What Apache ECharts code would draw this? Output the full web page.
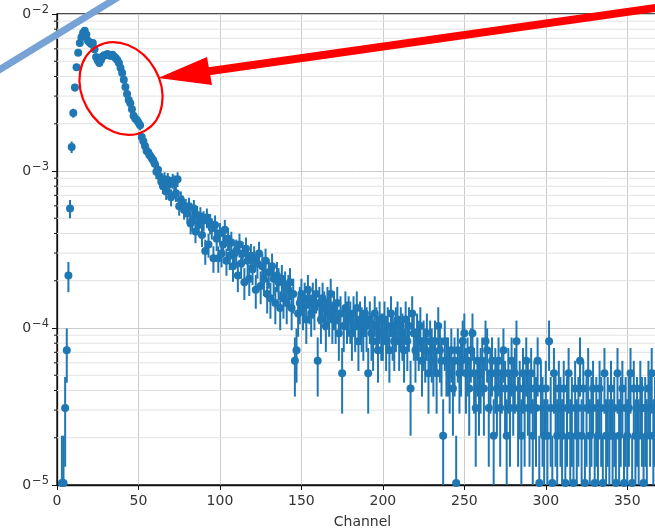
<!DOCTYPE html>
<html><head><meta charset="utf-8">
<script src="https://cdn.jsdelivr.net/npm/echarts@6/dist/echarts.min.js"></script>
<style>html,body{margin:0;padding:0;background:#fff}#c{width:655px;height:531px}</style>
</head><body><div id="c"></div>
<script>
// counts per channel (channel = index)
const counts = [
0,0,0,1,1,3,7,21,56,138,
227,330,445,550,635,690,735,760,720,655,
640,625,634,580,517,490,473,495,520,530,
532,540,532,525,535,520,510,495,473,440,
408,370,333,300,275,262,240,218,210,205,
198,190,160,150,140,130,128,122,118,114,
108,96,99,90,83,78,86,72,85,80,
66,84,82,70,86,58,64,60,55,57,
52,58,45,47,56,40,51,44,50,38,
47,30,49,33,45,42,27,44,36,27,
39,29,33,41,26,36,28,34,24,29,
30,21,33,25,29,19,31,26,20,28,
23,27,17,25,29,18,24,20,26,16,
22,15,24,20,14,21,19,13,20,15,
18,14,17,19,13,16,6,7,12,14,
16,13,15,11,17,14,12,15,13,16,
6,14,11,15,13,10,14,12,16,11,
13,11,14,9,12,5,10,13,11,12,
11,9,12,10,13,8,11,10,9,12,
10,5,11,9,8,12,10,7,11,9,
9,11,8,10,7,12,9,8,10,11,
8,10,9,7,11,8,10,4,12,9,
7,9,8,10,6,8,7,9,5,8,
7,6,8,5,10,7,6,2,8,6,
6,5,7,4,6,1,7,5,6,8,
9,5,6,4,7,9,5,3,6,4,
5,6,4,8,7,3,5,6,2,5,
4,6,3,5,7,4,2,5,3,6,
4,5,8,3,4,2,5,3,6,4,
3,5,2,4,3,6,1,4,3,2,
4,2,8,3,1,5,3,2,4,3,
2,4,1,3,5,2,3,1,4,2,
3,6,2,4,1,3,5,2,3,4,
1,3,2,4,3,1,5,2,3,2,
4,2,3,1,5,2,3,4,1,3,
2,3,5,1,4,2,3,2,4,3,
1,3,2,4,3,5,2,3
];
const countUnit = 1.03e-5;           // value of one count on the y axis
const xTickValues = [0,50,100,150,200,250,300,350];
const xTickLabels = ['0','50','100','150','200','250','300','350'];
const yTickValues = [1e-5,1e-4,1e-3,1e-2];
const yTickBase = ['0','0','0','0'];
const yTickExp = ['\u22125','\u22124','\u22123','\u22122'];
const xName = 'Channel';

// derived series (Poisson errors, sqrt of counts)
const points = [], bars = [];
counts.forEach((n,i)=>{
  if(n<=0) return;
  const v = n*countUnit, e = Math.sqrt(n)*countUnit;
  points.push([i, v]);
  bars.push([i, v, v-e, v+e]);
});
const minorVals = [];
for (let k=-5;k<=-3;k++) for (let m=2;m<=9;m++) minorVals.push([0, m*Math.pow(10,k)]);

const chart = echarts.init(document.getElementById('c'), null, {renderer:'canvas'});
const blue = '#1f77b4';
const FONT = 'DejaVu Sans';
chart.setOption({
  animation:false,
  backgroundColor:'#fff',
  grid:{left:57, top:14, bottom:46, right:-13, show:true, borderColor:'#111', borderWidth:1.3,
        containLabel:false, outerBoundsMode:'none'},
  xAxis:{type:'value', min:0, max:375, interval:50,
    name:xName, nameLocation:'middle', nameGap:30,
    nameTextStyle:{fontFamily:FONT, fontSize:14, color:'#333'},
    axisLine:{show:true, onZero:false, lineStyle:{color:'#111', width:1.3}},
    axisTick:{show:true, length:5, lineStyle:{color:'#111'}},
    axisLabel:{margin:9, fontFamily:FONT, fontSize:14, color:'#333', showMaxLabel:false,
      formatter:v=>{const i=xTickValues.indexOf(v); return i<0?'':xTickLabels[i];}},
    splitLine:{show:true, lineStyle:{color:'#cccccc', width:1}}
  },
  yAxis:{type:'log', logBase:10, min:1e-5, max:1e-2, splitNumber:3,
    axisLine:{show:true, lineStyle:{color:'#111', width:1.3}},
    axisTick:{show:true, length:5, lineStyle:{color:'#111'}},
    axisLabel:{margin:8, fontFamily:FONT, color:'#333',
      formatter:v=>{
        const i=yTickValues.findIndex(t=>Math.abs(Math.log10(t)-Math.log10(v))<1e-6);
        return i<0?'':'{a|'+yTickBase[i]+'}{b|'+yTickExp[i]+'}';
      },
      rich:{a:{fontFamily:FONT, fontSize:14, color:'#333'}, b:{fontFamily:FONT, fontSize:11.5, color:'#333', padding:[0,0,7,1]}}
    },
    splitLine:{show:true, lineStyle:{color:'#cccccc', width:1}}
  },
  series:[
    {type:'custom', z:1, silent:true, clip:false, data:minorVals,
      renderItem:(params, api)=>{
        const cs = params.coordSys;
        const p = api.coord([0, api.value(1)]);
        return {type:'group', children:[
          {type:'line', shape:{x1:cs.x, y1:p[1], x2:cs.x+cs.width, y2:p[1]}, style:{stroke:'#e2e2e2', lineWidth:1}},
          {type:'line', shape:{x1:cs.x-3, y1:p[1], x2:cs.x, y2:p[1]}, style:{stroke:'#111', lineWidth:1}}
        ]};
      }},
    {type:'custom', z:2, silent:true, clip:true, data:bars, encode:{x:0, y:1},
      renderItem:(params, api)=>{
        const x = api.value(0);
        const lo = Math.max(api.value(2), 1e-5);
        const hi = api.value(3);
        const p1 = api.coord([x, lo]), p2 = api.coord([x, hi]);
        return {type:'line', shape:{x1:p1[0], y1:p1[1], x2:p2[0], y2:p2[1]}, style:{stroke:blue, lineWidth:2}};
      }},
    {type:'scatter', z:3, silent:true, data:points, symbol:'circle', symbolSize:8, itemStyle:{color:blue, opacity:1}}
  ],
  graphic:[
    {type:'line', z:100, shape:{x1:-6, y1:73, x2:120, y2:-4}, style:{stroke:'#77a2d6', lineWidth:7}},
    {type:'ellipse', z:100, x:121, y:88.5, rotation:0.52, shape:{cx:0, cy:0, rx:39, ry:48.5}, style:{fill:null, stroke:'#ff0000', lineWidth:2.2}},
    {type:'line', z:100, shape:{x1:662, y1:7, x2:200, y2:72.5}, style:{stroke:'#ff0000', lineWidth:8}},
    {type:'polygon', z:101, shape:{points:[[158,78],[212,85],[207,57]]}, style:{fill:'#ff0000'}}
  ]
});
</script></body></html>
